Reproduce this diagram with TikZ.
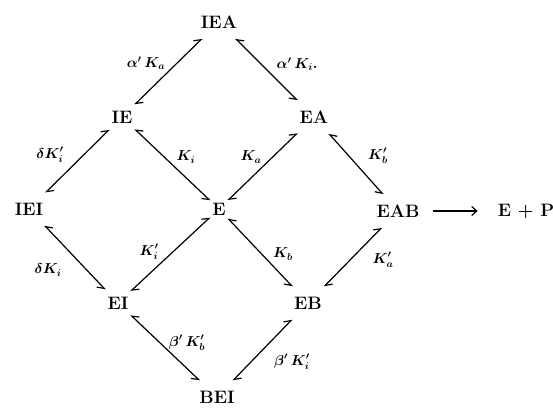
\documentclass[tikz,border=0pt]{standalone}
\usetikzlibrary{arrows.meta}
\begin{document}
\begin{tikzpicture}[x=1pt,y=1pt,
  state/.style={font=\fontsize{18}{21}\selectfont\bfseries, inner xsep=2pt, inner ysep=10pt},
  rate/.style={font=\fontsize{14}{16}\selectfont\boldmath, inner sep=0pt},
  upline/.style={line width=1.2pt, {Straight Barb[left,length=6pt,width=9pt]}-{Straight Barb[left,length=6pt,width=9pt]}},
  dnline/.style={line width=1.2pt, {Straight Barb[right,length=6pt,width=9pt]}-{Straight Barb[right,length=6pt,width=9pt]}},
  fwd/.style={line width=1.2pt, -{Straight Barb[length=5pt,width=9pt]}}]
\useasboundingbox (0,0) rectangle (553,407);
\node[state] (IEA) at (219,385) {IEA};
\node[state] (IE)  at (122,290) {IE};
\node[state] (EA)  at (314,290) {EA};
\node[state] (IEI) at (29,198) {IEI};
\node[state] (E)   at (219,198) {E};
\node[state] (EAB) at (398,196) {EAB};
\node[state] (EP)  at (526,196) {E + P};
\node[state] (EI)  at (118,104) {EI};
\node[state] (EB)  at (308,104) {EB};
\node[state] (BEI) at (217,10) {BEI};
% rising lines
\draw[upline] (IE) -- (IEA);
\draw[upline] (IEI) -- (IE);
\draw[upline] (E) -- (EA);
\draw[upline] (EI) -- (E);
\draw[upline] (EB) -- (EAB);
\draw[upline] (BEI) -- (EB);
% falling lines
\draw[dnline] (IEA) -- (EA);
\draw[dnline] (IE) -- (E);
\draw[dnline] (EA) -- (EAB);
\draw[dnline] (IEI) -- (EI);
\draw[dnline] (E) -- (EB);
\draw[dnline] (EI) -- (BEI);
\draw[fwd, shorten <=11pt, shorten >=18pt] (EAB.east) -- (EP.west);
% labels
\node[rate] (l1)  at (146,344) {$\alpha'\,K_a$};
\node[rate] (l2)  at (297,343) {$\alpha'\,K_{i}.$};
\node[rate] (l3)  at (50,252)  {$\delta K'_i$};
\node[rate] (l4)  at (186,250) {$K_i$};
\node[rate] (l5)  at (251,250) {$K_a$};
\node[rate] (l6)  at (48,137)  {$\delta K_i$};
\node[rate] (l7)  at (149,155) {$K'_i$};
\node[rate] (l8)  at (283,153) {$K_b$};
\node[rate] (l9)  at (378,251) {$K'_b$};
\node[rate] (l10) at (383,147) {$K'_a$};
\node[rate] (l11) at (187,64)  {$\beta'\,K'_b$};
\node[rate] (l12) at (292,45)  {$\beta'\,K'_i$};
\end{tikzpicture}
\end{document}
